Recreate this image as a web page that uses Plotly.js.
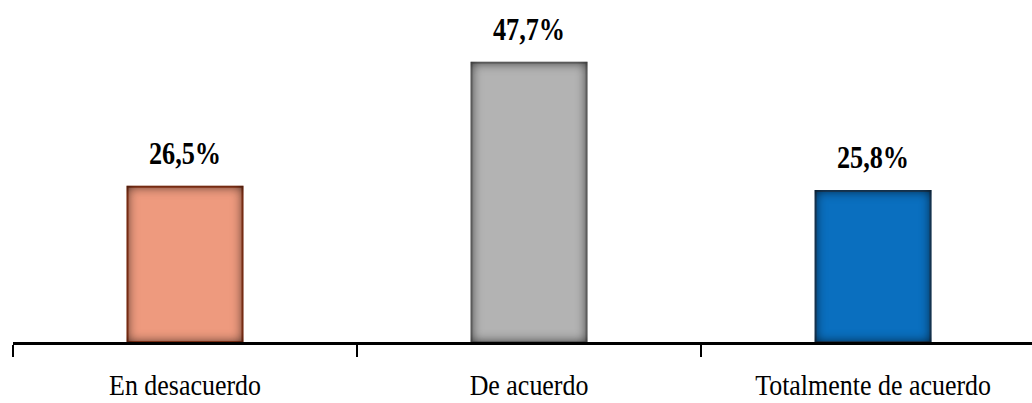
<!DOCTYPE html>
<html><head><meta charset="utf-8">
<script src="https://cdn.plot.ly/plotly-3.0.1.min.js"></script>
<style>html,body{margin:0;padding:0;background:#fff}#chart{width:1032px;height:403px}</style>
</head><body><div id="chart"></div>
<svg width="0" height="0" style="position:absolute">
  <defs>
    <filter id="inset" x="-20%" y="-20%" width="140%" height="140%" color-interpolation-filters="sRGB">
      <feComponentTransfer in="SourceAlpha" result="inv"><feFuncA type="table" tableValues="1 0"/></feComponentTransfer>
      <feGaussianBlur in="inv" stdDeviation="6" result="blur"/>
      <feFlood flood-color="#000" flood-opacity="0.8" result="col"/>
      <feComposite in="col" in2="blur" operator="in" result="shadow"/>
      <feComposite in="shadow" in2="SourceAlpha" operator="in" result="inner"/>
      <feMerge><feMergeNode in="SourceGraphic"/><feMergeNode in="inner"/></feMerge>
    </filter>
  </defs>
</svg>
<script>
const categories = ["En desacuerdo", "De acuerdo", "Totalmente de acuerdo"];
const values = [26.5, 47.7, 25.8];
const valueLabels = ["26,5%", "47,7%", "25,8%"];
const fillColors = ["#EE9A7E", "#B3B3B3", "#0A6FBF"];
const borderColors = ["#B5441F", "#8C8C8C", "#1F4E79"];

const serif = "Liberation Serif";

const trace = {
  type: "bar",
  x: categories,
  y: values,
  marker: {color: fillColors, line: {color: borderColors, width: 2}},
  hoverinfo: "none"
};

const annotations = categories.map((c, i) => ({
  x: c, y: values[i], xref: "x", yref: "y",
  text: valueLabels[i],
  showarrow: false, yanchor: "bottom", yshift: 14,
  font: {family: serif, size: 32, weight: "bold", color: "#000"}
}));

const layout = {
  width: 1032, height: 403,
  margin: {l: 13, r: 0, t: 20, b: 61, pad: 0},
  paper_bgcolor: "#fff", plot_bgcolor: "#fff",
  showlegend: false,
  bargap: 0.666,
  xaxis: {
    type: "category",
    range: [-0.5, 2.462],
    tickson: "boundaries",
    ticks: "outside", ticklen: 12, tickwidth: 2, tickcolor: "#000",
    showline: true, linecolor: "#000", linewidth: 2.5,
    showgrid: false, zeroline: false,
    ticklabelstandoff: 15,
    tickfont: {family: serif, size: 30, color: "#000"}
  },
  yaxis: {
    range: [0, 55], visible: false, showgrid: false, zeroline: false
  },
  annotations: annotations
};

function squeeze(sel, sx) {
  document.querySelectorAll(sel).forEach(t => {
    const x = parseFloat(t.getAttribute("x")) || 0;
    const old = t.getAttribute("transform") || "";
    t.setAttribute("transform", old + " translate(" + x + ",0) scale(" + sx + ",1) translate(" + (-x) + ",0)");
  });
}

Plotly.newPlot("chart", [trace], layout, {displayModeBar: false, staticPlot: true}).then(() => {
  squeeze("#chart .xtick text", 0.865);
  squeeze("#chart .annotation-text", 0.82);
  document.querySelectorAll("#chart .bars .point path").forEach(p => { p.style.filter = "url(#inset)"; });
});
</script></body></html>
